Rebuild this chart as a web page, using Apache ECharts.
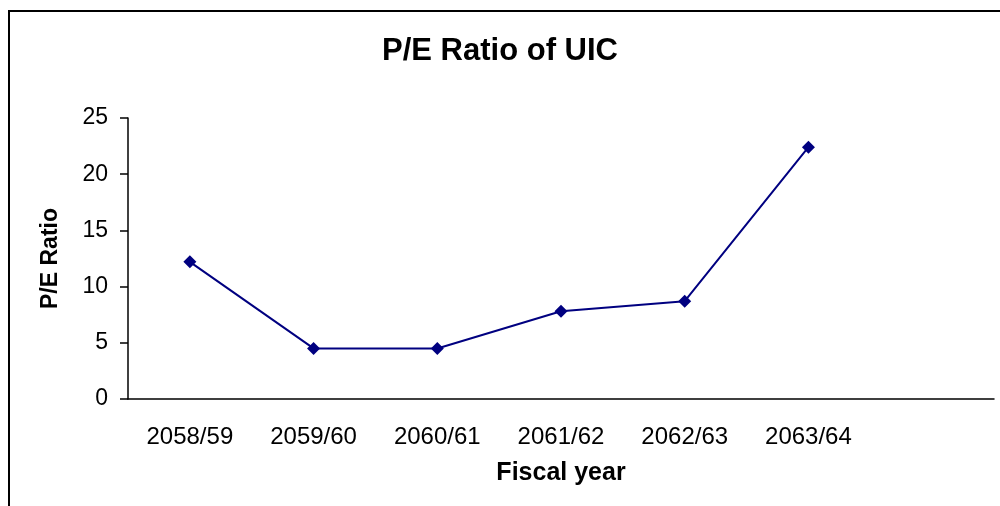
<!DOCTYPE html>
<html>
<head>
<meta charset="utf-8">
<script src="https://cdn.jsdelivr.net/npm/echarts@6/dist/echarts.min.js"></script>
<style>
  html, body { margin: 0; padding: 0; background: #fff; }
  #pe_chart { width: 1000px; height: 506px; }
</style>
</head>
<body>
<div id="pe_chart"></div>
<script>
  // fiscal years (last slot is empty in the original)
  const years = ['2058/59', '2059/60', '2060/61', '2061/62', '2062/63', '2063/64', '']
  const peRatio = [12.2, 4.5, 4.5, 7.8, 8.7, 22.4]
  const yTicks = [0, 5, 10, 15, 20, 25]

  const font = 'Arial, "Liberation Sans", sans-serif'

  const chart = echarts.init(document.getElementById('pe_chart'))
  chart.setOption({
    animation: false,
    title: {
      text: 'P/E Ratio of UIC',
      left: 'center',
      top: 31,
      textStyle: { fontFamily: font, fontSize: 31, fontWeight: 'bold', color: '#000' }
    },
    // outer frame of the pasted excel chart
    graphic: [{
      type: 'rect',
      shape: { x: 9, y: 11, width: 1000, height: 520 },
      style: { fill: 'none', stroke: '#000', lineWidth: 2 },
      silent: true
    }],
    grid: { left: 128, right: 6, top: 118, bottom: 107 },
    xAxis: {
      type: 'category',
      data: years,
      boundaryGap: true,
      name: 'Fiscal year',
      nameLocation: 'middle',
      nameGap: 62,
      nameTextStyle: { fontFamily: font, fontSize: 25, fontWeight: 'bold', color: '#000' },
      axisLine: { lineStyle: { color: '#000', width: 1.5 } },
      axisTick: { alignWithLabel: false, length: 7, lineStyle: { color: '#000', width: 1.5 } },
      axisLabel: { fontFamily: font, fontSize: 24, color: '#000', margin: 26, interval: 0 }
    },
    yAxis: {
      type: 'value',
      min: yTicks[0],
      max: yTicks[yTicks.length - 1],
      interval: 5,
      name: 'P/E Ratio',
      nameLocation: 'middle',
      nameGap: 66,
      nameRotate: 90,
      nameTextStyle: { fontFamily: font, fontSize: 23, fontWeight: 'bold', color: '#000' },
      axisLine: { show: true, lineStyle: { color: '#000', width: 1.5 } },
      axisTick: { show: true, length: 8, lineStyle: { color: '#000', width: 1.5 } },
      axisLabel: { fontFamily: font, fontSize: 23, color: '#000', margin: 20 },
      splitLine: { show: false }
    },
    series: [{
      type: 'line',
      data: peRatio,
      symbol: 'diamond',
      symbolSize: 13,
      itemStyle: { color: '#000080' },
      lineStyle: { color: '#000080', width: 2 }
    }]
  })
</script>
</body>
</html>
